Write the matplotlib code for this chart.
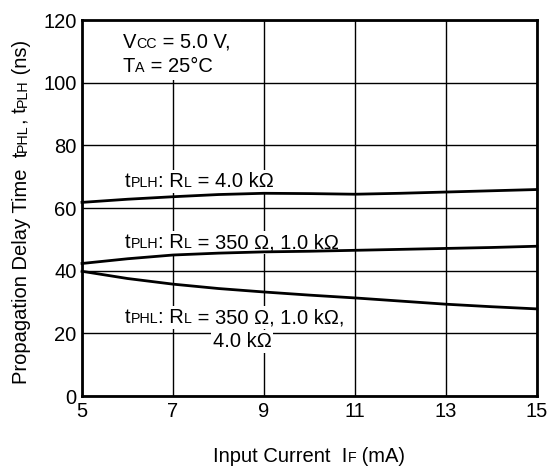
import numpy as np
import matplotlib
matplotlib.use('Agg')
import matplotlib.pyplot as plt
from matplotlib.transforms import offset_copy, IdentityTransform, Bbox
from matplotlib.patches import Rectangle

plt.rcParams['font.family'] = ['Liberation Sans', 'DejaVu Sans']

# input current IF (mA)
i_f = [5, 6, 7, 8, 9, 10, 11, 12, 13, 14, 15]
# propagation delay (ns)
tplh_4k = [61.8, 62.8, 63.6, 64.3, 64.7, 64.6, 64.4, 64.7, 65.1, 65.5, 65.9]
tplh_350 = [42.3, 43.8, 45.0, 45.6, 46.0, 46.2, 46.5, 46.8, 47.1, 47.4, 47.8]
tphl_all = [39.8, 37.5, 35.7, 34.3, 33.2, 32.2, 31.3, 30.3, 29.3, 28.5, 27.8]

xticks = [5, 7, 9, 11, 13, 15]
yticks = [0, 20, 40, 60, 80, 100, 120]

BIG = 14.5
SMALL = 10.3

fig = plt.figure(figsize=(5.49, 4.72), dpi=100)
ax = fig.add_axes([0.1494, 0.161, 0.8286, 0.7966])
r = fig.canvas.get_renderer()


def rich(x, y, parts, rotation=0, center=False, transform=None, box=True):
    # draws text made of pieces with different sizes, one after the other
    if transform is None:
        transform = ax.transData
    texts, widths = [], []
    for s, size in parts:
        t = ax.text(x, y, s, fontsize=size, rotation=rotation, rotation_mode='anchor',
                    ha='left', va='baseline', transform=transform, zorder=3,
                    clip_on=False)
        bb = t.get_window_extent(r)
        widths.append(bb.height if rotation else bb.width)
        texts.append(t)
    off = -sum(widths) / 2 if center else 0
    for t, w in zip(texts, widths):
        if rotation:
            t.set_transform(offset_copy(transform, fig=fig, x=0, y=off, units='dots'))
        else:
            t.set_transform(offset_copy(transform, fig=fig, x=off, y=0, units='dots'))
        off += w
    if box:
        # white box behind the whole label so the grid breaks there
        bb = Bbox.union([t.get_window_extent(r) for t in texts])
        pad = 2
        ax.add_patch(Rectangle((bb.x0 - pad, bb.y0 - pad), bb.width + 2 * pad,
                               bb.height + 2 * pad, transform=IdentityTransform(),
                               fc='white', ec='none', zorder=2.9, clip_on=False))
    return texts


ax.plot(i_f, tplh_4k, color='black', lw=2, zorder=4, clip_on=False)
ax.plot(i_f, tplh_350, color='black', lw=2, zorder=4, clip_on=False)
ax.plot(i_f, tphl_all, color='black', lw=2, zorder=4, clip_on=False)

ax.set_xlim(5, 15)
ax.set_ylim(0, 120)
ax.set_xticks(xticks)
ax.set_yticks(yticks)
ax.set_axisbelow(True)
ax.grid(True, color='black', lw=1)
ax.tick_params(length=0, labelsize=BIG, pad=4)
for sp in ax.spines.values():
    sp.set_linewidth(2)
    sp.set_zorder(5)

# white area behind the conditions text
ax.add_patch(Rectangle((5, 100.7), 3.5, 19.3, fc='white', ec='none', zorder=1))

rich(5.9, 111.1, [('V', BIG), ('CC', SMALL), (' = 5.0 V,', BIG)], box=False)
rich(5.9, 103.4, [('T', BIG), ('A', SMALL), (' = 25°C', BIG)], box=False)

rich(5.95, 66.6, [('t', BIG), ('PLH', SMALL), (': R', BIG), ('L', SMALL), (' = 4.0 kΩ', BIG)])
rich(5.95, 47.1, [('t', BIG), ('PLH', SMALL), (': R', BIG), ('L', SMALL), (' = 350 Ω, 1.0 kΩ', BIG)])
rich(5.95, 23.2, [('t', BIG), ('PHL', SMALL), (': R', BIG), ('L', SMALL), (' = 350 Ω, 1.0 kΩ,', BIG)])
rich(7.87, 15.5, [('4.0 kΩ', BIG)])

rich(0.5, -0.1755, [('Input Current  I', BIG), ('F', SMALL), (' (mA)', BIG)],
     center=True, transform=ax.transAxes, box=False)
rich(-0.121, 0.49, [('Propagation Delay Time  t', BIG), ('PHL', SMALL), (', t', BIG),
                    ('PLH', SMALL), (' (ns)', BIG)],
     rotation=90, center=True, transform=ax.transAxes, box=False)

fig.savefig('out.png', dpi=100)
